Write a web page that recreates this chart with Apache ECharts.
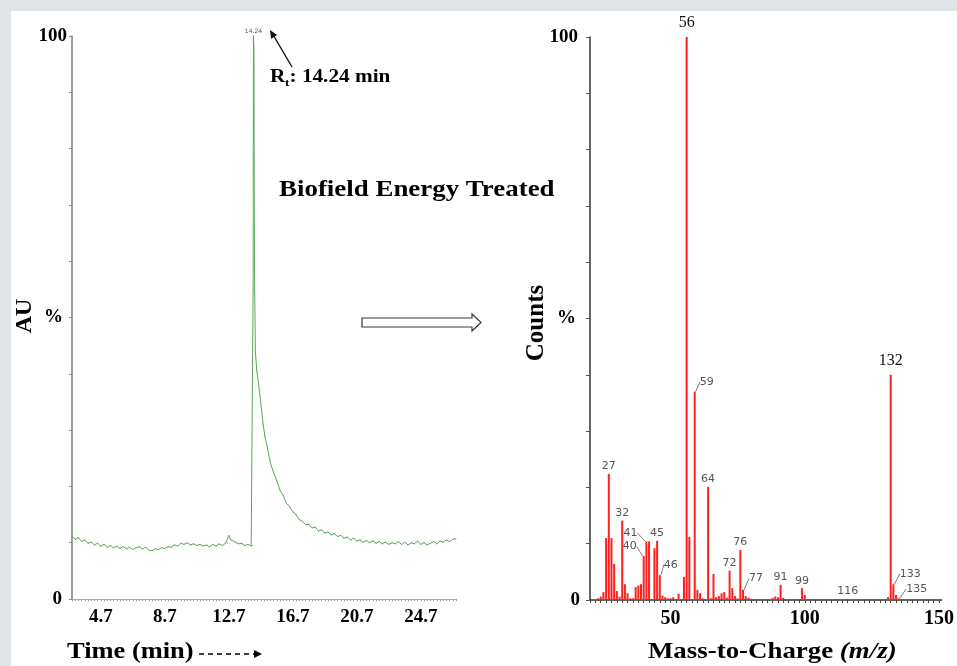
<!DOCTYPE html>
<html>
<head>
<meta charset="utf-8">
<script src="https://cdn.jsdelivr.net/npm/echarts@6/dist/echarts.min.js"></script>
<style>
  html, body { margin: 0; padding: 0; background: #e1e5e7; }
  #c { width: 957px; height: 666px; }
</style>
</head>
<body>
<div id="c"></div>
<script>
// ---- GC chromatogram (retention time in min, relative abundance %) ----
const chromTime = [
  2.9, 3.1, 3.3, 3.5, 3.7, 3.9, 4.1, 4.3, 4.5, 4.7, 4.9, 5.1, 5.3, 5.5, 5.7, 5.9,
  6.1, 6.3, 6.5, 6.7, 6.9, 7.1, 7.3, 7.5, 7.7, 7.9, 8.1, 8.3, 8.5, 8.7, 8.9, 9.1,
  9.3, 9.5, 9.7, 9.9, 10.1, 10.3, 10.5, 10.7, 10.9, 11.1, 11.3, 11.5, 11.7, 11.9,
  12.1, 12.3, 12.5, 12.6, 12.7, 12.8, 12.9, 13.1, 13.3, 13.5, 13.7, 13.9, 14.1, 14.2,
  14.22, 14.24, 14.27, 14.30, 14.36, 14.45, 14.55, 14.65, 14.75, 14.85, 14.95, 15.1,
  15.3, 15.5, 15.7, 15.9, 16.1, 16.3, 16.5, 16.7, 16.9, 17.1, 17.3, 17.5, 17.7, 17.9,
  18.1, 18.3, 18.5, 18.7, 18.9, 19.1, 19.3, 19.5, 19.7, 19.9, 20.1, 20.3, 20.5, 20.7,
  20.9, 21.1, 21.3, 21.5, 21.7, 21.9, 22.1, 22.3, 22.5, 22.7, 22.9, 23.1, 23.3, 23.5,
  23.7, 23.9, 24.1, 24.3, 24.5, 24.7, 24.9, 25.1, 25.3, 25.5, 25.7, 25.9, 26.1, 26.3,
  26.5, 26.7, 26.9
];
const chromAU = [
  11.2, 10.6, 10.9, 10.2, 10.5, 9.9, 10.1, 9.6, 9.9, 9.4, 9.7, 9.2, 9.5, 9.1, 9.4, 9.0,
  9.3, 8.9, 9.2, 8.8, 9.1, 9.3, 8.9, 9.2, 8.7, 8.6, 8.9, 8.8, 9.1, 9.0, 9.3, 9.2,
  9.6, 9.4, 9.9, 9.7, 10.0, 9.6, 9.8, 9.5, 9.7, 9.4, 9.6, 9.3, 9.7, 9.4,
  9.8, 9.5, 9.9, 10.0, 11.3, 10.6, 10.4, 10.1, 9.8, 9.9, 9.5, 9.7, 9.4, 9.5,
  55, 100, 98, 60, 44, 40.5, 38.5, 36, 33.5, 31, 29, 27,
  24.2, 22.4, 21, 19.3, 18.4, 17.0, 16.4, 15.5, 15.0, 14.1, 13.8, 13.2, 13.3, 12.6,
  12.8, 12.1, 12.3, 11.7, 11.9, 11.4, 11.6, 11.1, 11.3, 10.8, 11.0, 10.5, 10.8, 10.3,
  10.5, 10.1, 10.4, 10.0, 10.3, 9.9, 10.2, 9.8, 10.1, 9.7, 10.0, 9.8, 10.2, 9.7,
  10.1, 9.6, 10.0, 9.8, 10.3, 9.7, 10.0, 9.6, 9.9, 10.2, 9.8, 10.3, 10.1, 10.5,
  10.2, 10.6, 10.7
];
const timeTicks = [4.7, 8.7, 12.7, 16.7, 20.7, 24.7];
const peakTime = 14.24;

// ---- Mass spectrum of the main peak (m/z, relative counts %) ----
const mzValues = [
  23, 24, 25, 26, 27, 28, 29, 30, 31, 32, 33, 34, 35, 36, 37, 38, 39, 40, 41, 42,
  44, 45, 46, 47, 48, 49, 50, 51, 53, 55, 56, 57, 59, 60, 61, 62, 64, 65, 66, 67,
  68, 69, 70, 71, 72, 73, 74, 75, 76, 77, 78, 79, 80, 88, 89, 90, 91, 92, 99, 100,
  116, 131, 132, 133, 134, 135
];
const mzCounts = [
  0.3, 0.6, 1.4, 11, 22.4, 11, 6.4, 1.6, 0.6, 14.1, 2.8, 1.2, 0.3, 0.3, 2.3, 2.6, 2.8, 7.8, 10.4, 10.4,
  9.2, 10.5, 4.4, 0.8, 0.5, 0.3, 0.3, 0.5, 1.1, 4.1, 100, 11.2, 37, 1.8, 1.2, 0.3, 20.1, 0.3, 4.6, 0.5,
  0.7, 1.2, 1.4, 0.4, 5.2, 2.1, 0.7, 0.3, 8.9, 1.8, 0.7, 0.4, 0.2, 0.4, 0.6, 0.5, 2.7, 0.4, 2.1, 0.9,
  0.2, 0.5, 40, 2.8, 0.9, 0.3
];
const mzTicks = [50, 100, 150];
const labelledMz = [27, 32, 40, 41, 45, 46, 59, 64, 72, 76, 77, 91, 99, 116, 133, 135];
const majorMz = [56, 132];

// label displacement (px) for labels pulled aside with a leader line
const labelShift = {
  40: [-14, -2], 41: [-16, -1], 46: [11, -3], 59: [12, -2],
  77: [13, -4], 133: [17, -3], 135: [18, -2]
};

const SERIF = '"Liberation Serif", "Times New Roman", serif';
const SANS = '"DejaVu Sans", sans-serif';

function range(a, b, step) {
  const out = [];
  for (let v = a; v <= b + 1e-9; v += step) out.push(+v.toFixed(3));
  return out;
}

const chromData = chromTime.map((t, i) => {
  if (t === peakTime) {
    return {
      value: [t, chromAU[i]],
      label: {
        show: true, position: 'top', distance: 1,
        formatter: p => p.value[0].toFixed(2),
        fontSize: 6, color: '#555', fontFamily: SANS
      }
    };
  }
  return [t, chromAU[i]];
});

const msData = mzValues.map((mz, i) => {
  const item = { value: [mz, mzCounts[i]] };
  if (majorMz.includes(mz)) {
    item.label = {
      show: true, position: 'top', distance: 6,
      formatter: p => String(p.value[0]),
      fontFamily: SERIF, fontSize: 16, color: '#111'
    };
  } else if (labelledMz.includes(mz)) {
    item.label = {
      show: true, position: 'top', distance: 2,
      formatter: p => String(p.value[0]),
      fontFamily: SANS, fontSize: 11, color: '#555'
    };
    if (labelShift[mz]) {
      item.labelLine = { show: true, lineStyle: { color: '#7a7a7a', width: 1 } };
    }
  }
  return item;
});

function yLabelRich(padTop, padPct, padZero) {
  return {
    a: { fontFamily: SERIF, fontWeight: 'bold', fontSize: 19, color: '#000', padding: [0, padTop, 0, 0] },
    p: { fontFamily: SERIF, fontWeight: 'bold', fontSize: 19, color: '#000', padding: [0, padPct, 0, 0] },
    z: { fontFamily: SERIF, fontWeight: 'bold', fontSize: 19, color: '#000', padding: [0, padZero, 0, 0] }
  };
}
function yLabelFormat(v) {
  if (v === 100) return '{a|100}';
  if (v === 50) return '{p|%}';
  if (v === 0) return '{z|0}';
  return '';
}

const chart = echarts.init(document.getElementById('c'), null, { renderer: 'canvas', width: 957, height: 666 });

chart.setOption({
  animation: false,
  backgroundColor: '#e1e5e7',
  grid: [
    { left: 72, top: 36, width: 384, height: 563, containLabel: false },
    { left: 590, top: 37, width: 356, height: 563, containLabel: false }
  ],
  xAxis: [
    {
      gridIndex: 0, type: 'value', min: 2.9, max: 26.9,
      axisLine: { show: true, onZero: false, lineStyle: { color: '#a7b2bb', width: 1 } },
      axisTick: { show: true, customValues: range(2.9, 26.9, 0.2), length: 2, lineStyle: { color: '#8e9aa5', width: 1 } },
      axisLabel: {
        customValues: timeTicks, formatter: v => v.toFixed(1), margin: 9,
        fontFamily: SERIF, fontWeight: 'bold', fontSize: 19, color: '#000'
      },
      splitLine: { show: false }
    },
    {
      gridIndex: 1, type: 'value', min: 20, max: 151,
      axisLine: { show: true, onZero: false, lineStyle: { color: '#333', width: 1.5 } },
      axisTick: { show: true, customValues: range(20, 150, 2), length: 3, lineStyle: { color: '#444', width: 1 } },
      axisLabel: {
        customValues: mzTicks, margin: 9,
        fontFamily: SERIF, fontWeight: 'bold', fontSize: 20, color: '#000'
      },
      splitLine: { show: false }
    }
  ],
  yAxis: [
    {
      gridIndex: 0, type: 'value', min: 0, max: 100, interval: 10,
      axisLine: { show: true, lineStyle: { color: '#7d7d7d', width: 1.5 } },
      axisTick: { show: true, length: 3, lineStyle: { color: '#8a8a8a' } },
      axisLabel: { margin: 5, formatter: yLabelFormat, rich: yLabelRich(0, 4, 5) },
      splitLine: { show: false }
    },
    {
      gridIndex: 1, type: 'value', min: 0, max: 100, interval: 10,
      axisLine: { show: true, lineStyle: { color: '#333', width: 1.5 } },
      axisTick: { show: true, length: 4, lineStyle: { color: '#555' } },
      axisLabel: { margin: 10, formatter: yLabelFormat, rich: yLabelRich(2, 4, 0) },
      splitLine: { show: false }
    }
  ],
  series: [
    {
      type: 'line', xAxisIndex: 0, yAxisIndex: 0,
      data: chromData, showSymbol: true, showAllSymbol: true,
      symbol: 'circle', symbolSize: 1,
      itemStyle: { color: '#5aa85a' },
      lineStyle: { color: '#5aa85a', width: 1 },
      z: 3
    },
    {
      type: 'bar', xAxisIndex: 1, yAxisIndex: 1,
      data: msData, barWidth: 2,
      itemStyle: { color: '#ff1f1f' },
      labelLayout: p => {
        const s = labelShift[mzValues[p.dataIndex]];
        return s ? { dx: s[0], dy: s[1] } : {};
      },
      z: 3
    }
  ],
  graphic: [
    // white page panel
    { type: 'rect', z: -10, shape: { x: 11, y: 11, width: 946, height: 655 }, style: { fill: '#ffffff' } },

    // left panel titles
    {
      type: 'text', x: 25, y: 316, rotation: Math.PI / 2,
      style: { text: 'AU', fontFamily: SERIF, fontWeight: 'bold', fontSize: 24, fill: '#000', align: 'center', verticalAlign: 'middle' }
    },
    {
      type: 'text', x: 67, y: 652, scaleX: 1.15,
      style: { text: 'Time (min)', fontFamily: SERIF, fontWeight: 'bold', fontSize: 23, fill: '#000', align: 'left', verticalAlign: 'middle' }
    },
    { type: 'line', shape: { x1: 199, y1: 654, x2: 254, y2: 654 }, style: { stroke: '#000', lineWidth: 1.6, lineDash: [5, 4] } },
    { type: 'polygon', shape: { points: [[254, 650], [262, 654], [254, 658]] }, style: { fill: '#000' } },

    // retention time callout
    { type: 'line', shape: { x1: 292, y1: 67, x2: 273.5, y2: 35.5 }, style: { stroke: '#111', lineWidth: 1.4 } },
    { type: 'polygon', shape: { points: [[270, 30], [277.1, 35.1], [271.1, 38.7]] }, style: { fill: '#111' } },
    {
      type: 'text', x: 270, y: 77, scaleX: 1.18,
      style: { text: 'R', fontFamily: SERIF, fontWeight: 'bold', fontSize: 18, fill: '#000', align: 'left', verticalAlign: 'middle' }
    },
    {
      type: 'text', x: 285, y: 83, scaleX: 1.18,
      style: { text: 't', fontFamily: SERIF, fontWeight: 'bold', fontSize: 11, fill: '#000', align: 'left', verticalAlign: 'middle' }
    },
    {
      type: 'text', x: 289.5, y: 77, scaleX: 1.18,
      style: { text: ': 14.24 min', fontFamily: SERIF, fontWeight: 'bold', fontSize: 18, fill: '#000', align: 'left', verticalAlign: 'middle' }
    },

    // sample label
    {
      type: 'text', x: 279, y: 190, scaleX: 1.17,
      style: { text: 'Biofield Energy Treated', fontFamily: SERIF, fontWeight: 'bold', fontSize: 23, fill: '#000', align: 'left', verticalAlign: 'middle' }
    },

    // hollow arrow from the peak to its spectrum
    {
      type: 'polygon',
      shape: { points: [[362, 318], [472, 318], [472, 314], [481, 322.5], [472, 331], [472, 327], [362, 327]] },
      style: { fill: '#ffffff', stroke: '#3a3a3a', lineWidth: 1.2 }
    },

    // right panel titles
    {
      type: 'text', x: 537, y: 323, rotation: Math.PI / 2,
      style: { text: 'Counts', fontFamily: SERIF, fontWeight: 'bold', fontSize: 25, fill: '#000', align: 'center', verticalAlign: 'middle' }
    },
    {
      type: 'text', x: 648, y: 652, scaleX: 1.12,
      style: {
        text: '{a|Mass-to-Charge }{b|(m/z)}', align: 'left', verticalAlign: 'middle',
        rich: {
          a: { fontFamily: SERIF, fontWeight: 'bold', fontSize: 24, fill: '#000' },
          b: { fontFamily: SERIF, fontWeight: 'bold', fontStyle: 'italic', fontSize: 24, fill: '#000' }
        }
      }
    }
  ]
});
</script>
</body>
</html>
